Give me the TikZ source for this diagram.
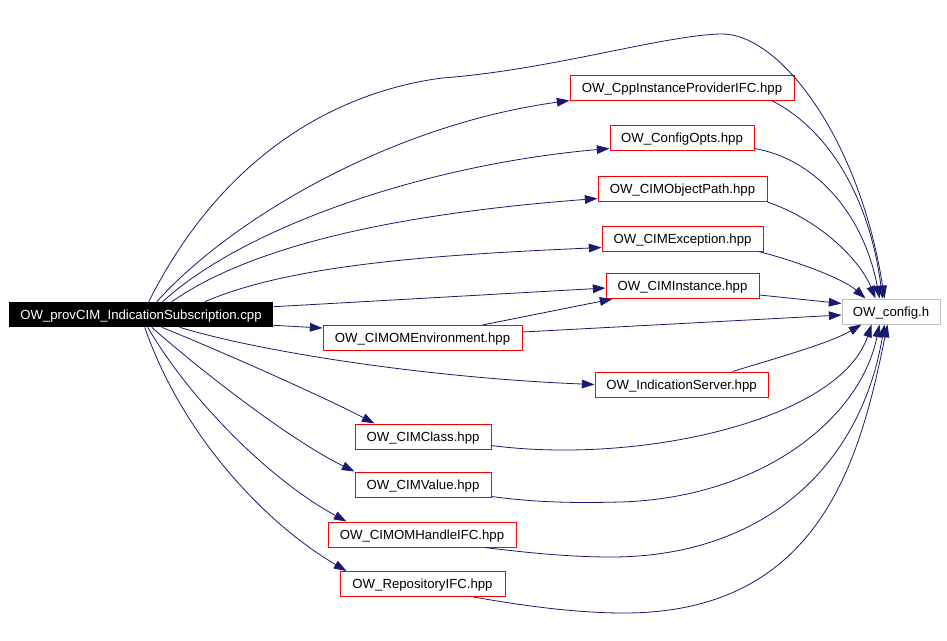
\documentclass[tikz,border=0pt]{standalone}
\usepackage{fontspec}
\setmainfont{Liberation Sans}
\usetikzlibrary{arrows.meta,calc}
\definecolor{edgec}{RGB}{25,25,112}
\definecolor{hdrred}{RGB}{255,0,0}
\definecolor{cfggray}{RGB}{191,191,191}
\begin{document}
\begin{tikzpicture}[x=0.75pt,y=-0.75pt,
  every node/.style={font=\fontsize{9.9pt}{11pt}\selectfont, inner sep=0pt, minimum height=18.75pt, text height=7.1pt, text depth=0pt},
  hdr/.style={draw=hdrred, line width=0.75pt, fill=white},
  sysbox/.style={draw=cfggray, line width=0.75pt, fill=white},
  mainbox/.style={fill=black, text=white},
  dep/.style={draw=edgec, line width=0.6pt, -{Triangle[length=9.5pt,width=6.5pt]}}]
\useasboundingbox[fill=white] (0,0) rectangle (947,640);

\node[mainbox, minimum width={264*0.75pt}] (main) at (141,314.5) {OW\_provCIM\_IndicationSubscription.cpp};
\node[hdr, minimum width={224*0.75pt}] (cpp) at (682,87.5) {OW\_CppInstanceProviderIFC.hpp};
\node[hdr, minimum width={144*0.75pt}] (cfgopts) at (682,138) {OW\_ConfigOpts.hpp};
\node[hdr, minimum width={169*0.75pt}] (objpath) at (682.5,189) {OW\_CIMObjectPath.hpp};
\node[hdr, minimum width={161*0.75pt}] (exc) at (682.5,238.5) {OW\_CIMException.hpp};
\node[hdr, minimum width={153*0.75pt}] (inst) at (682.5,286) {OW\_CIMInstance.hpp};
\node[sysbox, minimum width={98*0.75pt}] (cfgh) at (891,311.5) {OW\_config.h};
\node[hdr, minimum width={199*0.75pt}] (env) at (422.5,338) {OW\_CIMOMEnvironment.hpp};
\node[hdr, minimum width={173*0.75pt}] (ind) at (681.5,384.5) {OW\_IndicationServer.hpp};
\node[hdr, minimum width={136*0.75pt}] (cls) at (423,436.5) {OW\_CIMClass.hpp};
\node[hdr, minimum width={136*0.75pt}] (val) at (423,484.5) {OW\_CIMValue.hpp};
\node[hdr, minimum width={188*0.75pt}] (hdl) at (422,534.5) {OW\_CIMOMHandleIFC.hpp};
\node[hdr, minimum width={165*0.75pt}] (rep) at (422.5,584) {OW\_RepositoryIFC.hpp};

% main -> headers
\draw[dep] ($(main.north west)+(140,0)$) .. controls (220,160) and (330,93) .. (442,78) .. controls (550,70) and (660,36) .. (720,34) .. controls (780,32) and (860,140) .. ($(cfgh.north west)+(43,0)$);
\draw[dep] ($(main.north west)+(148,0)$) .. controls (230,220) and (390,125) .. (cpp.south west);
\draw[dep] ($(main.north west)+(154,0)$) .. controls (240,230) and (420,165) .. ($(cfgopts.south west)+(0,-2.5)$);
\draw[dep] ($(main.north west)+(163,0)$) .. controls (260,240) and (420,212) .. ($(objpath.south west)+(0,-3.5)$);
\draw[dep] ($(main.north west)+(196,0)$) .. controls (290,265) and (430,255) .. ($(exc.south west)+(0,-4)$);
\draw[dep] ($(main.north east)+(0,5)$) -- ($(inst.west)+(0,2)$);
\draw[dep] ($(main.south east)+(0,-2)$) -- ($(env.north west)+(0,3)$);
\draw[dep] ($(main.south west)+(171,0)$) .. controls (260,352) and (430,378) .. (ind.west);
\draw[dep] ($(main.south west)+(153,0)$) .. controls (230,355) and (330,400) .. ($(cls.north west)+(20,0)$);
\draw[dep] ($(main.south west)+(143,0)$) .. controls (200,370) and (290,440) .. (val.north west);
\draw[dep] ($(main.south west)+(139,0)$) .. controls (190,400) and (270,480) .. ($(hdl.north west)+(19,0)$);
\draw[dep] ($(main.south west)+(136,0)$) .. controls (180,430) and (260,520) .. ($(rep.north west)+(7,0)$);

% environment
\draw[dep] ($(env.north west)+(160,0)$) -- ($(inst.south west)+(7,0)$);
\draw[dep] ($(env.east)+(0,-6)$) -- ($(cfgh.west)+(0,3.5)$);

% headers -> config.h
\draw[dep] ($(inst.east)+(0,9)$) -- ($(cfgh.north west)+(0,5)$);
\draw[dep] ($(cpp.south west)+(202,0)$) .. controls (830,130) and (870,200) .. ($(cfgh.north west)+(41,0)$);
\draw[dep] ($(cfgopts.south east)+(0,-2.5)$) .. controls (820,160) and (865,220) .. ($(cfgh.north west)+(38,0)$);
\draw[dep] (objpath.south east) .. controls (820,220) and (860,260) .. ($(cfgh.north west)+(34,0)$);
\draw[dep] ($(exc.south east)+(-5,0)$) .. controls (800,262) and (845,280) .. ($(cfgh.north west)+(24,0)$);
\draw[dep] ($(ind.north west)+(138,0)$) .. controls (780,357) and (830,343) .. ($(cfgh.south west)+(20,0)$);
\draw[dep] ($(cls.south east)+(0,-4)$) .. controls (640,465) and (840,420) .. ($(cfgh.south west)+(30,0)$);
\draw[dep] ($(val.south east)+(0,-1)$) .. controls (540,503) and (580,503) .. (620,502) .. controls (760,498) and (860,420) .. ($(cfgh.south west)+(38,0)$);
\draw[dep] ($(hdl.south west)+(157,0)$) .. controls (530,553) and (570,557) .. (611,557) .. controls (760,557) and (860,470) .. ($(cfgh.south west)+(43,0)$);
\draw[dep] ($(rep.south west)+(134,0)$) .. controls (530,607) and (580,613) .. (624,613) .. controls (820,613) and (860,460) .. ($(cfgh.south west)+(46,0)$);
\end{tikzpicture}
\end{document}
